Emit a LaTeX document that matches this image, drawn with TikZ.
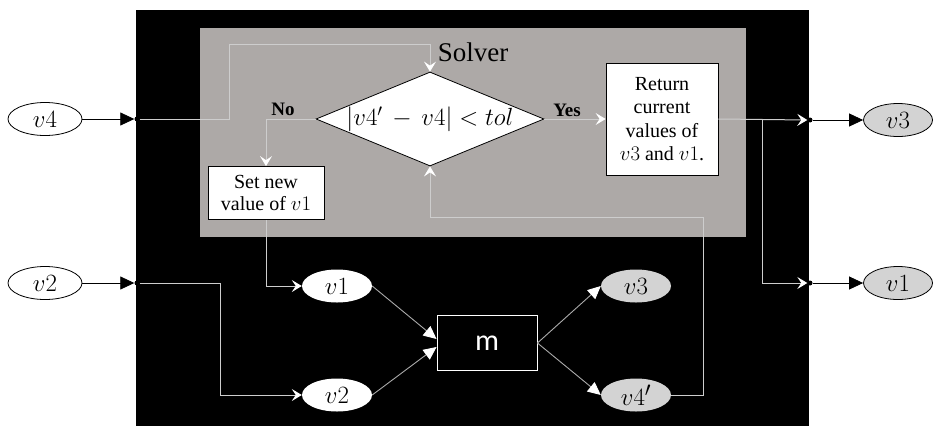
\documentclass[tikz,border=0pt]{standalone}
\usepackage{fontspec}
\setmainfont{Liberation Serif}
\newfontfamily\sansm{Carlito}
\usetikzlibrary{shapes.geometric,arrows.meta}
\definecolor{solvergray}{RGB}{173,169,167}
\definecolor{lightfill}{RGB}{211,211,211}
\definecolor{linegray}{RGB}{205,205,205}
\definecolor{linegrayb}{RGB}{170,170,170}
\begin{document}
\begin{tikzpicture}[x=1pt,y=-1pt,
  ellout/.style={ellipse, draw=black, line width=0.8pt, fill=white, minimum width=74pt, minimum height=33pt, inner sep=0pt, font=\fontsize{28}{30}\selectfont},
  elloutg/.style={ellout, fill=lightfill, minimum width=69pt},
  ellin/.style={ellipse, fill=white, minimum width=70pt, minimum height=33pt, inner sep=0pt, font=\fontsize{28}{30}\selectfont},
  ellgin/.style={ellin, fill=lightfill},
  textbox/.style={draw=black, line width=0.8pt, fill=white, inner sep=0pt, align=center, font=\fontsize{20}{22}\selectfont},
  dotc/.style={circle, fill=black, inner sep=0pt, minimum size=5pt},
  blkarr/.style={draw=black, line width=0.8pt, -{Triangle[length=14pt,width=13pt]}},
  wline/.style={draw=linegray, line width=1pt},
  warr/.style={wline, -{Stealth[length=10pt,width=12pt,inset=4pt,fill=white,color=white]}},
  wtri/.style={draw=linegrayb, line width=0.9pt, -{Triangle[length=13pt,width=12pt,fill=white,color=white]}},
  lbl/.style={font=\fontsize{19}{21}\selectfont\bfseries, text=black}
]
\useasboundingbox (0,0) rectangle (933,426);
% background panels
\fill[black] (136,10) rectangle (809,426);
\fill[solvergray] (200,28) rectangle (746,237);
\node[font=\fontsize{27}{30}\selectfont, text=black] (solver) at (473,52) {Solver};

% solver contents
\node[diamond, draw=black, line width=0.8pt, fill=white, aspect=2.45, inner sep=0pt, minimum width=226pt, minimum height=94pt, font=\fontsize{24}{26}\selectfont] (dia) at (430,119) {$|v4' \,-\, v4| < tol$};
\node[textbox, minimum width=116pt, minimum height=53pt] (setv) at (266,193) {Set new\\value of $v1$};
\node[textbox, minimum width=112pt, minimum height=112pt, font=\fontsize{20}{23.5}\selectfont] (ret) at (662,119) {Return\\current\\values of\\$v3$ and $v1$.};
\node[lbl] (no) at (283,109) {No};
\node[lbl] (yes) at (567,110) {Yes};

% model part
\node[ellin] (v1b) at (337,286) {$v1$};
\node[ellin] (v2b) at (337,395) {$v2$};
\node[ellgin] (v3b) at (636,286) {$v3$};
\node[ellgin] (v4p) at (636,395) {$v4'$};
\node[draw=white, line width=0.9pt, fill=black, minimum width=100pt, minimum height=55pt, inner sep=0pt, text=white, font=\sansm\fontsize{30}{32}\selectfont] (m) at (487,343) {m};

% outer ellipses
\node[ellout] (v4in) at (45,119) {$v4$};
\node[ellout] (v2in) at (45,283) {$v2$};
\node[elloutg] (v3out) at (898,120) {$v3$};
\node[elloutg] (v1out) at (898,283) {$v1$};

% ports
\node[dotc] (d1) at (137,119) {};
\node[dotc] (d2) at (137,283) {};
\node[dotc] (d3) at (810,120) {};
\node[dotc] (d4) at (810,283) {};

% external connectors
\draw[blkarr] (v4in.east) -- (d1.west);
\draw[blkarr] (v2in.east) -- (d2.west);
\draw[blkarr] (d3.east) -- (v3out.west);
\draw[blkarr] (d4.east) -- (v1out.west);

% internal connectors
\draw[warr] (d1.east) -- (229,119) -- (229,44) -| (dia.north);
\draw[warr] (dia.west) -| (setv.north);
\draw[warr] (dia.east) -- (ret.west);
\draw[warr] (ret.east) -- (d3.west);
\draw[warr] (762,120) |- (d4.west);
\draw[warr] (setv.south) |- (v1b.west);
\draw[warr] (d2.east) -- (220,283) |- (v2b.west);
\draw[warr] (v4p.east) -- (703,395) -- (703,217) -| (dia.south);
\draw[wtri] (v1b.east) -- ([yshift=4pt]m.west);
\draw[wtri] (v2b.east) -- ([yshift=-4pt]m.west);
\draw[wtri] (m.east) -- (v3b.west);
\draw[wtri] (m.east) -- (v4p.west);
\end{tikzpicture}
\end{document}
